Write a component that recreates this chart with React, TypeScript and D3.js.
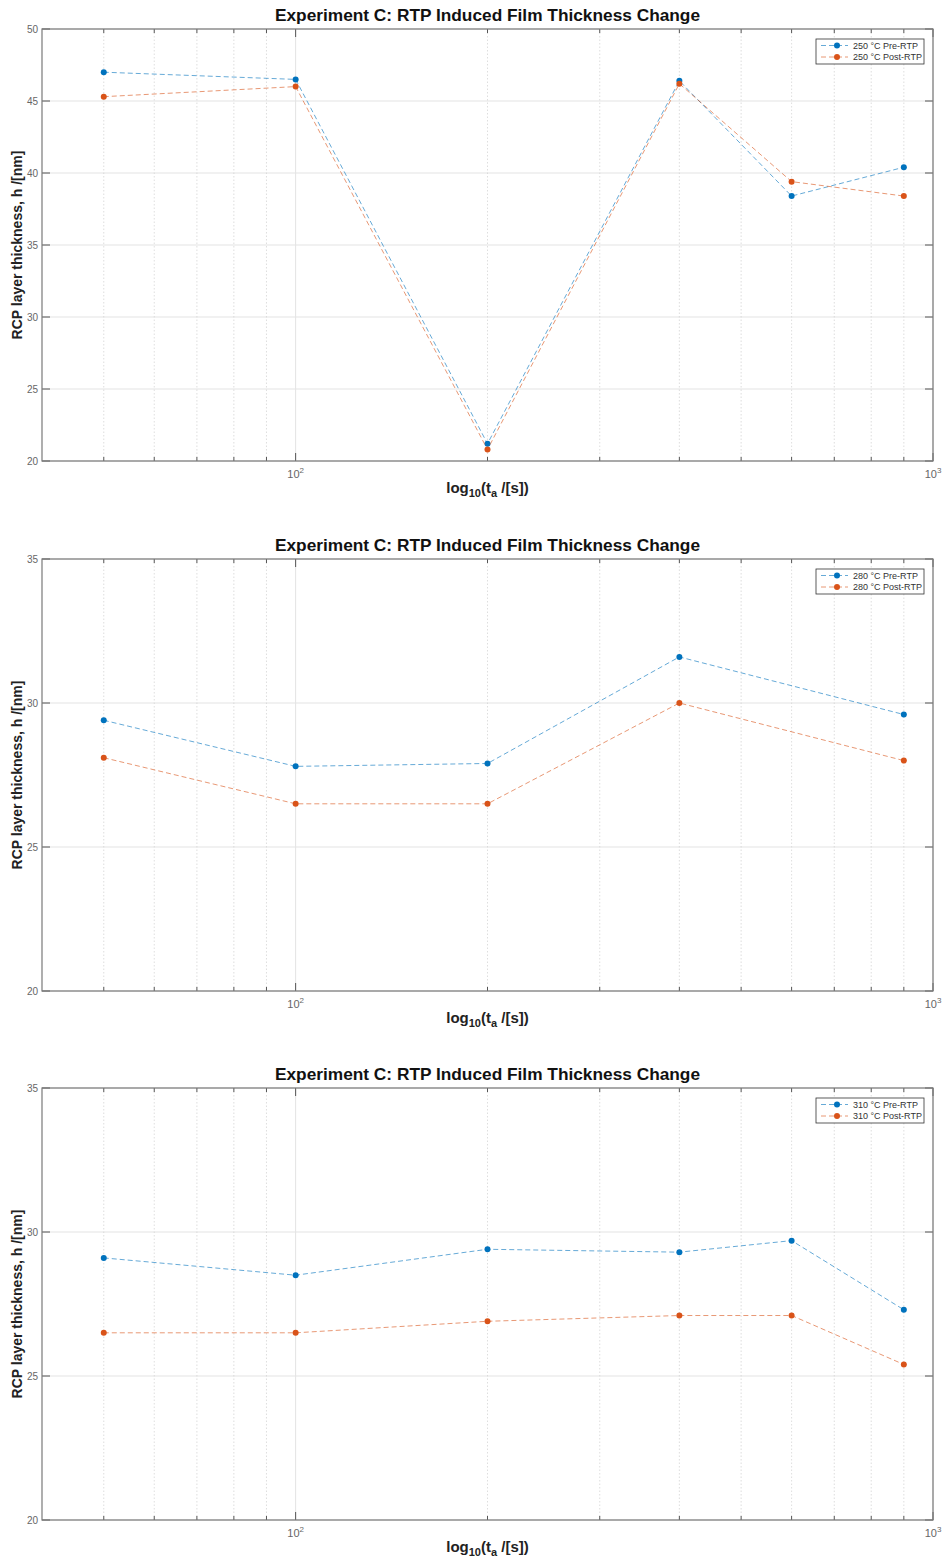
import React, { useEffect, useRef } from 'react';
import * as d3 from 'd3';

// anneal times [s] and measured thicknesses [nm]
const times250 = [50, 100, 200, 400, 600, 900];
const pre250 = [47.0, 46.5, 21.2, 46.4, 38.4, 40.4];
const post250 = [45.3, 46.0, 20.8, 46.2, 39.4, 38.4];

const times280 = [50, 100, 200, 400, 900];
const pre280 = [29.4, 27.8, 27.9, 31.6, 29.6];
const post280 = [28.1, 26.5, 26.5, 30.0, 28.0];

const times310 = [50, 100, 200, 400, 600, 900];
const pre310 = [29.1, 28.5, 29.4, 29.3, 29.7, 27.3];
const post310 = [26.5, 26.5, 26.9, 27.1, 27.1, 25.4];

const temps = ['250', '280', '310'];
const yDomains: [number, number][] = [[20, 50], [20, 35], [20, 35]];
const yTickVals = [[20, 25, 30, 35, 40, 45, 50], [20, 25, 30, 35], [20, 25, 30, 35]];
const xDomain: [number, number] = [40, 1000];
const xMajor = [100, 1000];
const xMinor = [50, 60, 70, 80, 90, 200, 300, 400, 500, 600, 700, 800, 900];

const panels = [
  { t: times250, pre: pre250, post: post250 },
  { t: times280, pre: pre280, post: post280 },
  { t: times310, pre: pre310, post: post310 },
];

const BLUE = '#0072BD';
const ORANGE = '#D95319';

const App: React.FC = () => {
  const svgRef = useRef<SVGSVGElement>(null);

  useEffect(() => {
    if (!svgRef.current) return;
    const svg = d3.select(svgRef.current);
    svg.selectAll('*').remove();

    const left = 42, right = 933, h = 432;
    const tops = [29, 559, 1088];
    const font = "'Liberation Sans', Arial, sans-serif";

    panels.forEach((p, i) => {
      const top = tops[i];
      const bottom = top + h;
      const x = d3.scaleLog().domain(xDomain).range([left, right]);
      const y = d3.scaleLinear().domain(yDomains[i]).range([bottom, top]);
      const g = svg.append('g');

      // grid
      g.selectAll('.ygrid').data(yTickVals[i]).enter().append('line')
        .attr('x1', left).attr('x2', right)
        .attr('y1', d => y(d)).attr('y2', d => y(d))
        .attr('stroke', '#e3e3e3').attr('stroke-width', 1);
      g.selectAll('.xminor').data(xMinor).enter().append('line')
        .attr('x1', d => x(d)).attr('x2', d => x(d))
        .attr('y1', top).attr('y2', bottom)
        .attr('stroke', '#d6d6d6').attr('stroke-width', 0.8)
        .attr('stroke-dasharray', '1.5,2');
      g.selectAll('.xmajor').data(xMajor).enter().append('line')
        .attr('x1', d => x(d)).attr('x2', d => x(d))
        .attr('y1', top).attr('y2', bottom)
        .attr('stroke', '#e3e3e3').attr('stroke-width', 1);

      // ticks (inward, both sides)
      const tickCol = '#555';
      yTickVals[i].forEach(v => {
        g.append('line').attr('x1', left).attr('x2', left + 8)
          .attr('y1', y(v)).attr('y2', y(v)).attr('stroke', tickCol);
        g.append('line').attr('x1', right).attr('x2', right - 8)
          .attr('y1', y(v)).attr('y2', y(v)).attr('stroke', tickCol);
        g.append('text').attr('x', left - 4).attr('y', y(v)).attr('dy', '0.35em')
          .attr('text-anchor', 'end').attr('font-family', font)
          .attr('font-size', 10).attr('fill', '#666').text(v);
      });
      xMinor.forEach(v => {
        g.append('line').attr('x1', x(v)).attr('x2', x(v))
          .attr('y1', bottom).attr('y2', bottom - 4).attr('stroke', tickCol);
        g.append('line').attr('x1', x(v)).attr('x2', x(v))
          .attr('y1', top).attr('y2', top + 4).attr('stroke', tickCol);
      });
      xMajor.forEach(v => {
        g.append('line').attr('x1', x(v)).attr('x2', x(v))
          .attr('y1', bottom).attr('y2', bottom - 8).attr('stroke', tickCol);
        g.append('line').attr('x1', x(v)).attr('x2', x(v))
          .attr('y1', top).attr('y2', top + 8).attr('stroke', tickCol);
        const t = g.append('text').attr('x', x(v)).attr('y', bottom + 17)
          .attr('text-anchor', 'middle').attr('font-family', font)
          .attr('font-size', 11).attr('fill', '#666');
        t.append('tspan').text('10');
        t.append('tspan').attr('dy', -5).attr('font-size', 8).text(String(Math.round(Math.log10(v))));
      });

      // box
      g.append('rect').attr('x', left).attr('y', top)
        .attr('width', right - left).attr('height', h)
        .attr('fill', 'none').attr('stroke', '#7a7a7a').attr('stroke-width', 1.2);

      // series
      const series = [
        { vals: p.pre, color: BLUE, label: `${temps[i]} °C Pre-RTP` },
        { vals: p.post, color: ORANGE, label: `${temps[i]} °C Post-RTP` },
      ];
      const line = d3.line<number>()
        .x((_, k) => x(p.t[k]))
        .y(d => y(d));
      series.forEach(s => {
        g.append('path').attr('d', line(s.vals) || '')
          .attr('fill', 'none').attr('stroke', s.color)
          .attr('stroke-opacity', 0.6).attr('stroke-width', 1)
          .attr('stroke-dasharray', '5,3');
        g.selectAll(null).data(s.vals).enter().append('circle')
          .attr('cx', (_, k) => x(p.t[k])).attr('cy', d => y(d))
          .attr('r', 3).attr('fill', s.color);
      });

      // legend
      const lx = 816, ly = top + 10, lw = 108, lh = 25;
      g.append('rect').attr('x', lx).attr('y', ly).attr('width', lw).attr('height', lh)
        .attr('fill', '#fff').attr('stroke', '#333').attr('stroke-width', 0.8);
      series.forEach((s, k) => {
        const yy = ly + 6.5 + k * 11.5;
        g.append('line').attr('x1', lx + 5).attr('x2', lx + 32)
          .attr('y1', yy).attr('y2', yy).attr('stroke', s.color)
          .attr('stroke-opacity', 0.6).attr('stroke-dasharray', '5,3');
        g.append('circle').attr('cx', lx + 21).attr('cy', yy).attr('r', 3).attr('fill', s.color);
        g.append('text').attr('x', lx + 37).attr('y', yy).attr('dy', '0.35em')
          .attr('font-family', font).attr('font-size', 9).attr('fill', '#333')
          .text(s.label);
      });

      // title
      g.append('text').attr('x', (left + right) / 2).attr('y', top - 8)
        .attr('text-anchor', 'middle').attr('font-family', font)
        .attr('font-weight', 'bold').attr('font-size', 17.3).attr('fill', '#111')
        .text('Experiment C: RTP Induced Film Thickness Change');

      // x label
      const xl = g.append('text').attr('x', (left + right) / 2).attr('y', bottom + 32)
        .attr('text-anchor', 'middle').attr('font-family', font)
        .attr('font-weight', 'bold').attr('font-size', 15).attr('fill', '#222');
      xl.append('tspan').text('log');
      xl.append('tspan').attr('dy', 4).attr('font-size', 11).text('10');
      xl.append('tspan').attr('dy', -4).text('(t');
      xl.append('tspan').attr('dy', 4).attr('font-size', 11).text('a');
      xl.append('tspan').attr('dy', -4).text(' /[s])');

      // y label
      g.append('text')
        .attr('transform', `translate(22,${(top + bottom) / 2}) rotate(-90)`)
        .attr('text-anchor', 'middle').attr('font-family', font)
        .attr('font-weight', 'bold').attr('font-size', 14).attr('fill', '#222')
        .text('RCP layer thickness, h /[nm]');
    });
  }, []);

  return (
    <svg ref={svgRef} width={947} height={1562}
      style={{ position: 'absolute', left: 0, top: 0, background: '#fff' }} />
  );
};

export default App;
